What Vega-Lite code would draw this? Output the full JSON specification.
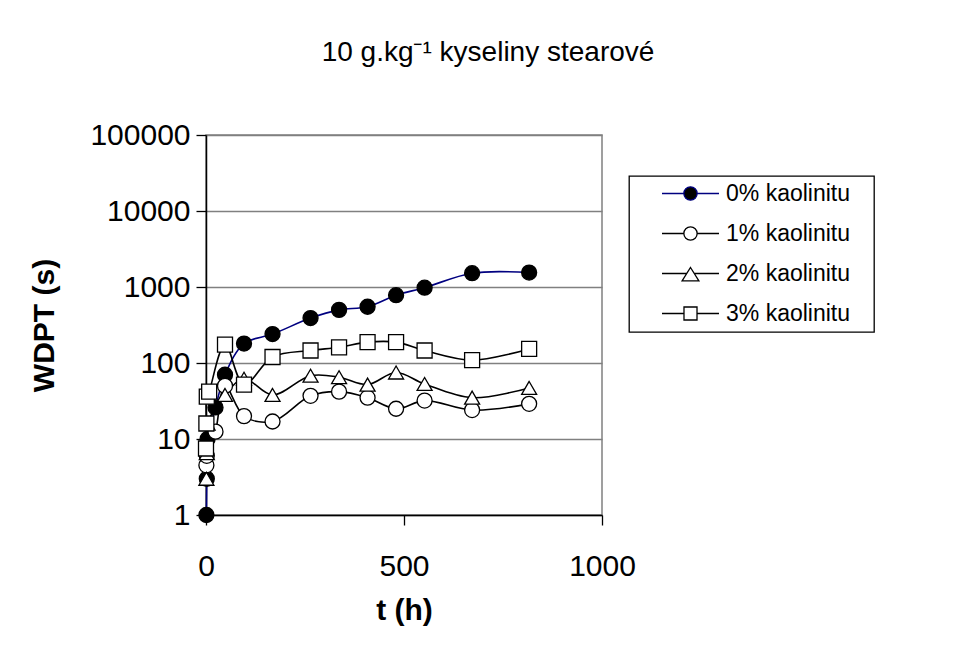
{
  "$schema": "https://vega.github.io/schema/vega-lite/v6.json",
  "width": 396,
  "height": 380,
  "autosize": "none",
  "padding": {"left": 206, "top": 135, "right": 352, "bottom": 137},
  "background": "white",
  "title": {
    "text": "10 g.kg⁻¹ kyseliny stearové",
    "anchor": "middle",
    "dx": 84,
    "offset": 31,
    "baseline": "alphabetic",
    "font": "Liberation Sans",
    "fontSize": 28,
    "fontWeight": "normal",
    "color": "black"
  },
  "data": {
    "values": [
      {"series": "0% kaolinitu", "t": 1, "wdpt": 1},
      {"series": "0% kaolinitu", "t": 2, "wdpt": 3},
      {"series": "0% kaolinitu", "t": 4, "wdpt": 10},
      {"series": "0% kaolinitu", "t": 24, "wdpt": 26},
      {"series": "0% kaolinitu", "t": 48, "wdpt": 70},
      {"series": "0% kaolinitu", "t": 96, "wdpt": 180},
      {"series": "0% kaolinitu", "t": 168, "wdpt": 240},
      {"series": "0% kaolinitu", "t": 264, "wdpt": 390},
      {"series": "0% kaolinitu", "t": 336, "wdpt": 500},
      {"series": "0% kaolinitu", "t": 408, "wdpt": 550},
      {"series": "0% kaolinitu", "t": 480, "wdpt": 780},
      {"series": "0% kaolinitu", "t": 552, "wdpt": 980},
      {"series": "0% kaolinitu", "t": 672, "wdpt": 1520},
      {"series": "0% kaolinitu", "t": 816, "wdpt": 1550},
      {"series": "1% kaolinitu", "t": 1, "wdpt": 4.5},
      {"series": "1% kaolinitu", "t": 2, "wdpt": 6},
      {"series": "1% kaolinitu", "t": 24, "wdpt": 12.5},
      {"series": "1% kaolinitu", "t": 48, "wdpt": 50},
      {"series": "1% kaolinitu", "t": 96, "wdpt": 20},
      {"series": "1% kaolinitu", "t": 168, "wdpt": 17},
      {"series": "1% kaolinitu", "t": 264, "wdpt": 37},
      {"series": "1% kaolinitu", "t": 336, "wdpt": 42},
      {"series": "1% kaolinitu", "t": 408, "wdpt": 35},
      {"series": "1% kaolinitu", "t": 480, "wdpt": 25},
      {"series": "1% kaolinitu", "t": 552, "wdpt": 32},
      {"series": "1% kaolinitu", "t": 672, "wdpt": 24},
      {"series": "1% kaolinitu", "t": 816, "wdpt": 29},
      {"series": "2% kaolinitu", "t": 1, "wdpt": 3},
      {"series": "2% kaolinitu", "t": 2, "wdpt": 6.5},
      {"series": "2% kaolinitu", "t": 4, "wdpt": 16},
      {"series": "2% kaolinitu", "t": 48, "wdpt": 38},
      {"series": "2% kaolinitu", "t": 96, "wdpt": 62},
      {"series": "2% kaolinitu", "t": 168, "wdpt": 38},
      {"series": "2% kaolinitu", "t": 264, "wdpt": 68},
      {"series": "2% kaolinitu", "t": 336, "wdpt": 65},
      {"series": "2% kaolinitu", "t": 408, "wdpt": 52},
      {"series": "2% kaolinitu", "t": 480, "wdpt": 75},
      {"series": "2% kaolinitu", "t": 552, "wdpt": 53},
      {"series": "2% kaolinitu", "t": 672, "wdpt": 35},
      {"series": "2% kaolinitu", "t": 816, "wdpt": 47},
      {"series": "3% kaolinitu", "t": 0, "wdpt": 7.5},
      {"series": "3% kaolinitu", "t": 1, "wdpt": 16},
      {"series": "3% kaolinitu", "t": 2, "wdpt": 36},
      {"series": "3% kaolinitu", "t": 8, "wdpt": 42},
      {"series": "3% kaolinitu", "t": 48, "wdpt": 175},
      {"series": "3% kaolinitu", "t": 96, "wdpt": 52},
      {"series": "3% kaolinitu", "t": 168, "wdpt": 120},
      {"series": "3% kaolinitu", "t": 264, "wdpt": 146},
      {"series": "3% kaolinitu", "t": 336, "wdpt": 161},
      {"series": "3% kaolinitu", "t": 408, "wdpt": 188},
      {"series": "3% kaolinitu", "t": 480, "wdpt": 188},
      {"series": "3% kaolinitu", "t": 552, "wdpt": 146},
      {"series": "3% kaolinitu", "t": 672, "wdpt": 109},
      {"series": "3% kaolinitu", "t": 816, "wdpt": 153}
    ]
  },
  "encoding": {
    "x": {
      "field": "t",
      "type": "quantitative",
      "scale": {"domain": [0, 1000], "nice": false, "zero": false},
      "axis": {
        "title": "t (h)",
        "values": [0, 500, 1000],
        "format": "d",
        "grid": false,
        "labelPadding": 26,
        "titlePadding": 14
      }
    },
    "y": {
      "field": "wdpt",
      "type": "quantitative",
      "scale": {"type": "log", "domain": [1, 100000], "nice": false},
      "axis": {
        "title": "WDPT (s)",
        "values": [1, 10, 100, 1000, 10000, 100000],
        "format": "d",
        "grid": true,
        "labelPadding": 6,
        "titlePadding": 30
      }
    }
  },
  "layer": [
    {
      "mark": {"type": "line", "interpolate": "catmull-rom", "strokeWidth": 1.6},
      "encoding": {
        "color": {
          "field": "series",
          "type": "nominal",
          "scale": {
            "domain": ["0% kaolinitu", "1% kaolinitu", "2% kaolinitu", "3% kaolinitu"],
            "range": ["#000080", "black", "black", "black"]
          },
          "legend": null
        }
      }
    },
    {
      "mark": {"type": "point", "filled": true, "size": 225, "stroke": "black", "strokeWidth": 1.3, "opacity": 1},
      "encoding": {
        "shape": {
          "field": "series",
          "type": "nominal",
          "scale": {
            "domain": ["0% kaolinitu", "1% kaolinitu", "2% kaolinitu", "3% kaolinitu"],
            "range": ["circle", "circle", "triangle-up", "square"]
          },
          "legend": null
        },
        "fill": {
          "field": "series",
          "type": "nominal",
          "scale": {
            "domain": ["0% kaolinitu", "1% kaolinitu", "2% kaolinitu", "3% kaolinitu"],
            "range": ["black", "white", "white", "white"]
          },
          "legend": null
        }
      }
    },
    {
      "transform": [{"filter": "false"}],
      "mark": {"type": "point", "filled": true, "size": 196, "strokeWidth": 1.3, "opacity": 1},
      "encoding": {
        "shape": {
          "field": "series",
          "type": "nominal",
          "scale": {
            "domain": ["0% kaolinitu", "1% kaolinitu", "2% kaolinitu", "3% kaolinitu"],
            "range": [
              "M-4.07,0L-0.95,0M0.95,0L4.07,0M-0.95,0A0.95,0.95,0,1,1,0.95,0A0.95,0.95,0,1,1,-0.95,0Z",
              "M-4.07,0L-0.95,0M0.95,0L4.07,0M-0.95,0A0.95,0.95,0,1,1,0.95,0A0.95,0.95,0,1,1,-0.95,0Z",
              "M-4.07,0L-0.54,0M0.54,0L4.07,0M0,-0.86L1.2,1.05L-1.2,1.05Z",
              "M-4.07,0L-0.93,0M0.93,0L4.07,0M-0.93,-0.93L0.93,-0.93L0.93,0.93L-0.93,0.93Z"
            ]
          },
          "legend": {
            "title": null,
            "orient": "none",
            "legendX": 423,
            "legendY": 41,
            "labelExpr": "datum.label + '\u2800'"
          }
        },
        "fill": {
          "field": "series",
          "type": "nominal",
          "scale": {
            "domain": ["0% kaolinitu", "1% kaolinitu", "2% kaolinitu", "3% kaolinitu"],
            "range": ["black", "white", "white", "white"]
          },
          "legend": {
            "title": null,
            "orient": "none",
            "legendX": 423,
            "legendY": 41,
            "labelExpr": "datum.label + '\u2800'"
          }
        },
        "stroke": {
          "field": "series",
          "type": "nominal",
          "scale": {
            "domain": ["0% kaolinitu", "1% kaolinitu", "2% kaolinitu", "3% kaolinitu"],
            "range": ["#000080", "black", "black", "black"]
          },
          "legend": {
            "title": null,
            "orient": "none",
            "legendX": 423,
            "legendY": 41,
            "labelExpr": "datum.label + '\u2800'"
          }
        }
      }
    }
  ],
  "resolve": {
    "scale": {"shape": "independent", "fill": "independent", "stroke": "independent", "color": "independent"},
    "legend": {"shape": "independent", "fill": "independent"}
  },
  "config": {
    "font": "Liberation Sans",
    "view": {"stroke": "#808080", "strokeWidth": 1.5},
    "axis": {
      "labelFont": "Liberation Sans",
      "labelFontSize": 30,
      "labelColor": "black",
      "titleFont": "Liberation Sans",
      "titleFontSize": 30,
      "titleFontWeight": "bold",
      "titleColor": "black",
      "domainColor": "black",
      "domainWidth": 1.5,
      "tickColor": "black",
      "tickWidth": 1.3,
      "tickSize": 10,
      "gridColor": "#808080",
      "gridWidth": 1.3,
      "labelOverlap": false,
      "labelFlush": false
    },
    "legend": {
      "strokeColor": "black",
      "strokeWidth": 1.3,
      "fillColor": "white",
      "padding": 6,
      "labelFont": "Liberation Sans",
      "labelFontSize": 23,
      "labelColor": "black",
      "labelOffset": 24,
      "symbolOffset": 44,
      "rowPadding": 16,
      "symbolSize": 196,
      "symbolStrokeWidth": 1.3,
      "labelLimit": 400
    }
  }
}
